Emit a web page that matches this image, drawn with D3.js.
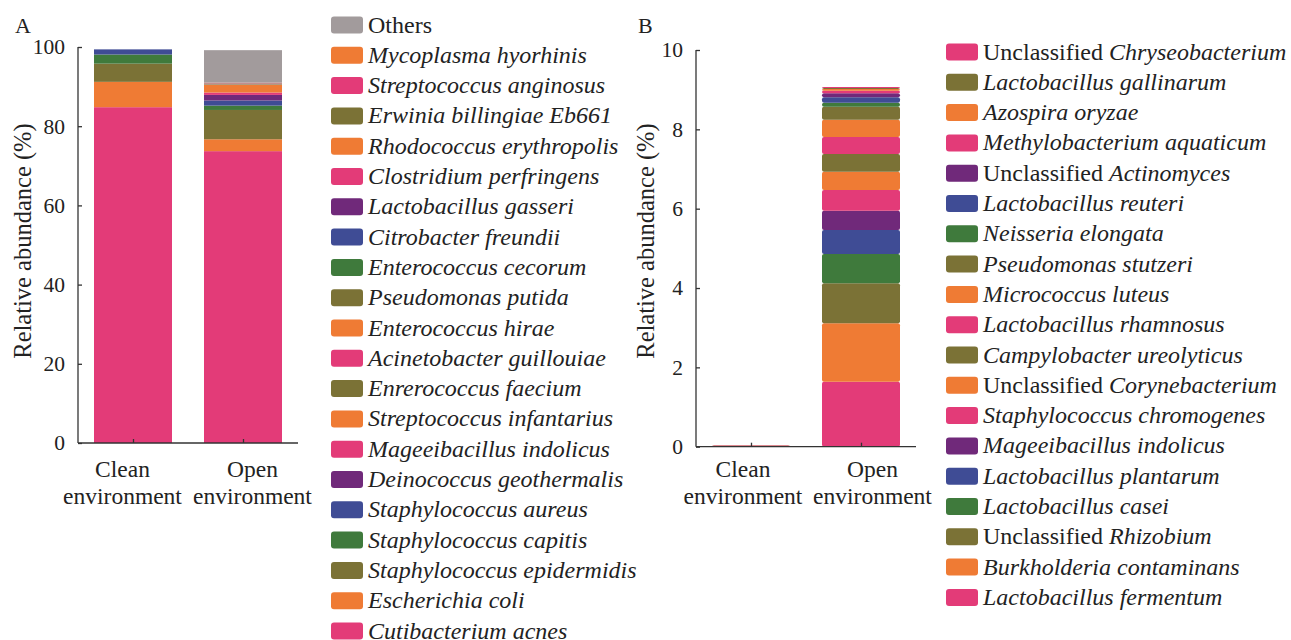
<!DOCTYPE html>
<html><head><meta charset="utf-8">
<script src="https://cdn.jsdelivr.net/npm/d3@7"></script>
<style>body{margin:0;background:#fff}svg{display:block}</style>
</head><body><svg id="c" width="1291" height="640" style="font-family:'Liberation Serif','Times New Roman',Tinos"></svg>
<script>
const FONT="'Liberation Serif', 'Times New Roman', Tinos";
const PINK="#e33b78",ORANGE="#ef7b34",OLIVE="#7b7236",GREEN="#3f7a3c",BLUE="#3f4c95",PURPLE="#70297a",GRAY="#a29b9c";
const groups=["Clean environment","Open environment"];
// Panel A: species from bottom of stack to top
const speciesA=["Cutibacterium acnes","Escherichia coli","Staphylococcus epidermidis","Staphylococcus capitis","Staphylococcus aureus","Deinococcus geothermalis","Mageeibacillus indolicus","Streptococcus infantarius","Enrerococcus faecium","Acinetobacter guillouiae","Enterococcus hirae","Pseudomonas putida","Enterococcus cecorum","Citrobacter freundii","Lactobacillus gasseri","Clostridium perfringens","Rhodococcus erythropolis","Erwinia billingiae Eb661","Streptococcus anginosus","Mycoplasma hyorhinis","Others"];
const colorsA=[PINK,ORANGE,OLIVE,GREEN,BLUE,PURPLE,PINK,ORANGE,OLIVE,PINK,ORANGE,OLIVE,GREEN,BLUE,PURPLE,PINK,ORANGE,OLIVE,PINK,ORANGE,GRAY];
const cleanA=[84.8,6.4,4.6,2.3,1.3,0,0,0,0,0,0,0,0,0,0,0,0,0,0,0,0];
const openA=[73.7,3.0,7.4,1.1,1.3,1.4,0.6,1.9,0.05,0.05,0.05,0.05,0.05,0.05,0.05,0.05,0.05,0.05,0.05,0.05,8.2];
// Panel B
const speciesB=["Lactobacillus fermentum","Burkholderia contaminans","Unclassified Rhizobium","Lactobacillus casei","Lactobacillus plantarum","Mageeibacillus indolicus","Staphylococcus chromogenes","Unclassified Corynebacterium","Campylobacter ureolyticus","Lactobacillus rhamnosus","Micrococcus luteus","Pseudomonas stutzeri","Neisseria elongata","Lactobacillus reuteri","Unclassified Actinomyces","Methylobacterium aquaticum","Azospira oryzae","Lactobacillus gallinarum","Unclassified Chryseobacterium"];
const colorsB=[PINK,ORANGE,OLIVE,GREEN,BLUE,PURPLE,PINK,ORANGE,OLIVE,PINK,ORANGE,OLIVE,GREEN,BLUE,PURPLE,PINK,ORANGE,OLIVE,PINK];
const cleanB=[0.01,0.005,0.005,0.002,0.002,0.002,0.005,0.003,0.003,0.003,0.002,0.002,0,0,0,0,0,0,0];
const openB=[1.64,1.47,1.01,0.74,0.60,0.49,0.52,0.46,0.45,0.43,0.43,0.33,0.10,0.14,0.10,0.06,0.05,0.02,0.03];
const ticksA=[0,20,40,60,80,100], ticksB=[0,2,4,6,8,10];

const svg=d3.select("#c");
function txt(sel,size){return sel.style("font-family",FONT).style("font-size",size+"px").attr("fill","#222");}
function panel(o){
  const g=svg.append("g");
  const x=d3.scalePoint().domain(groups).range([o.x0,o.x0+220]).padding(0.5);
  const y=d3.scaleLinear().domain([0,o.max]).range([o.yb,o.yt]);
  const data=[o.clean,o.open];
  const bw=78;
  data.forEach((vals,gi)=>{
    let cum=0;
    const segs=vals.map((v,i)=>{const s={y0:cum,y1:cum+v,c:o.colors[i]};cum+=v;return s;}).filter(s=>s.y1>s.y0);
    g.selectAll(null).data(segs).enter().append("rect")
      .attr("x",x(groups[gi])-bw/2).attr("width",bw)
      .attr("y",d=>y(d.y1)).attr("height",d=>y(d.y0)-y(d.y1))
      .attr("rx",o.rx).attr("fill",d=>d.c);
  });
  const ya=d3.axisLeft(y).tickValues(o.ticks).tickSize(-4).tickPadding(13).tickFormat(d3.format("d"));
  const yg=g.append("g").attr("transform",`translate(${o.x0},0)`).call(ya);
  yg.attr("font-family",null);
  yg.select(".domain").attr("d",`M0,${o.yt}V${o.yb}`).attr("stroke","#333").attr("stroke-width",1.3);
  yg.selectAll("line").attr("stroke","#333").attr("stroke-width",1.3);
  txt(yg.selectAll("text"),21.5);
  const xa=d3.axisBottom(x).tickSize(-4).tickFormat("");
  const xg=g.append("g").attr("transform",`translate(0,${o.yb})`).call(xa);
  xg.select(".domain").attr("d",`M${o.x0},0H${o.x0+220}`).attr("stroke","#333").attr("stroke-width",1.3);
  xg.selectAll("line").attr("stroke","#333").attr("stroke-width",1.3);
  groups.forEach((gn,gi)=>{
    const parts=gn.split(" ");
    const cx=x(gn)+o.lo[gi];
    const t=txt(g.append("text"),23.5).attr("x",cx).attr("y",476.5).attr("text-anchor","middle");
    t.append("tspan").attr("x",cx).text(parts[0]);
    t.append("tspan").attr("x",cx).attr("dy",27).text(parts[1]);
  });
  txt(g.append("text"),24.5).attr("transform",`translate(${o.tx},241) rotate(-90)`).attr("text-anchor","middle").text("Relative abundance (%)");
  txt(g.append("text"),22).attr("x",o.lx).attr("y",33).text(o.letter);
  const items=o.species.map((s,i)=>({s,c:o.colors[i]})).reverse();
  const lg=g.append("g");
  items.forEach((it,i)=>{
    const cy=o.ly+i*30.3;
    lg.append("rect").attr("x",o.legx).attr("y",cy-8.5).attr("width",32).attr("height",17).attr("rx",3).attr("fill",it.c);
    const t=txt(lg.append("text"),24).attr("x",o.legx+37).attr("y",cy+7.5);
    if(it.s==="Others"){t.text(it.s);}
    else if(it.s.startsWith("Unclassified ")){t.append("tspan").text("Unclassified ");t.append("tspan").style("font-style","italic").text(it.s.slice(13));}
    else t.style("font-style","italic").text(it.s);
  });
}
panel({x0:78,yb:443,yt:47,max:100,ticks:ticksA,clean:cleanA,open:openA,colors:colorsA,species:speciesA,rx:0,letter:"A",lx:15,legx:331,ly:25,tx:31,lo:[-10.5,9.5]});
panel({x0:696,yb:446.7,yt:50,max:10,ticks:ticksB,clean:cleanB,open:openB,colors:colorsB,species:speciesB,rx:2,letter:"B",lx:638,legx:946,ly:52,tx:654,lo:[-8,11.5]});
</script></body></html>
